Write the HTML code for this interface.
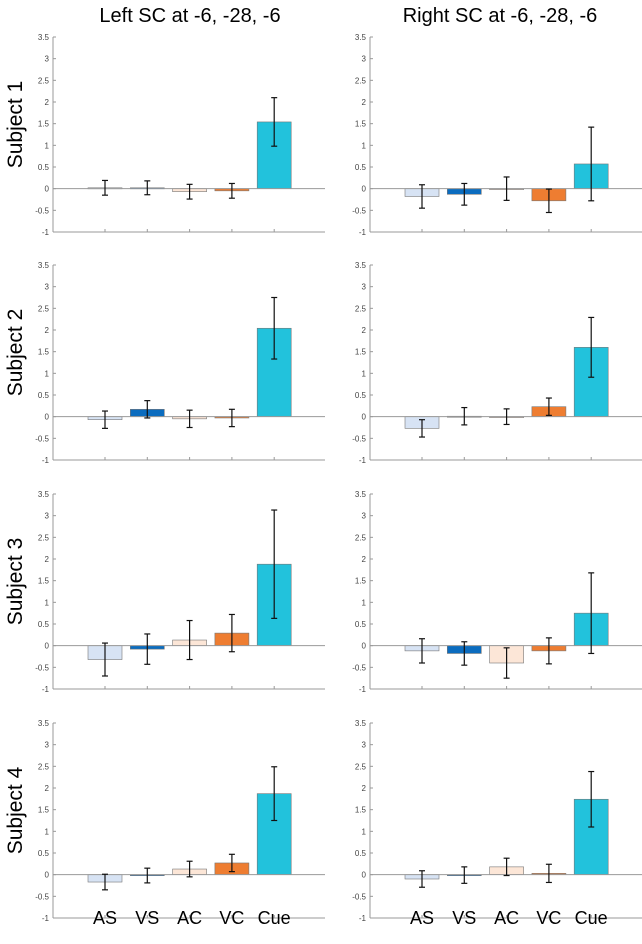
<!DOCTYPE html>
<html><head><meta charset="utf-8"><style>
body{margin:0;background:#fff;}
svg{display:block;font-family:"Liberation Sans",sans-serif;}
</style></head><body>
<svg id="fig" width="642" height="944" viewBox="0 0 642 944">
<text x="190" y="22" font-size="20" text-anchor="middle">Left SC at -6, -28, -6</text>
<text x="500" y="22" font-size="20" text-anchor="middle">Right SC at -6, -28, -6</text>
</svg>
<script>
const categories=["AS","VS","AC","VC","Cue"];
const colors=["#d7e3f4","#0b6cbf","#fce6d7","#ee7d31","#22c2dc"];
const subjects=["Subject 1","Subject 2","Subject 3","Subject 4"];
const leftValues=[[0.02,0.02,-0.07,-0.05,1.54],[-0.07,0.17,-0.05,-0.03,2.04],[-0.32,-0.08,0.13,0.29,1.88],[-0.17,-0.02,0.13,0.27,1.87]];
const leftErrors=[[0.17,0.16,0.17,0.17,0.56],[0.2,0.2,0.2,0.2,0.71],[0.38,0.35,0.45,0.43,1.25],[0.18,0.17,0.18,0.2,0.62]];
const rightValues=[[-0.18,-0.13,0.0,-0.28,0.57],[-0.27,0.01,0.0,0.23,1.6],[-0.12,-0.18,-0.4,-0.12,0.75],[-0.1,-0.01,0.18,0.03,1.74]];
const rightErrors=[[0.27,0.25,0.27,0.27,0.85],[0.2,0.2,0.18,0.2,0.69],[0.28,0.27,0.35,0.3,0.93],[0.19,0.19,0.2,0.21,0.64]];
const yTicks=["3.5","3","2.5","2","1.5","1","0.5","0","-0.5","-1"];
const NS="http://www.w3.org/2000/svg";
const svg=document.getElementById("fig");
function mk(tag,attrs,parent){const e=document.createElementNS(NS,tag);for(const k in attrs)e.setAttribute(k,attrs[k]);(parent||svg).appendChild(e);return e;}
const tops=[37,265,494,723],lefts=[53,370];
const H=195,yMin=-1,yMax=3.5;
function panel(px,py,vals,errs,name){
  const g=mk("g",{});
  
  
  const y=v=>py+(yMax-v)/(yMax-yMin)*H;
  const x=i=>px+52+i*42.3;
  const W=272;
  const ax=mk("line",{x1:px,y1:py,x2:px,y2:py+H,stroke:"#999","stroke-width":1},g);
  
  
  const bx=mk("line",{x1:px,y1:py+H,x2:px+W,y2:py+H,stroke:"#999","stroke-width":1},g);
  
  
  yTicks.forEach(t=>{const v=parseFloat(t);
    mk("line",{x1:px,y1:y(v),x2:px+3,y2:y(v),stroke:"#999"},g);
    const tx=mk("text",{x:px-4,y:y(v)+3,"font-size":8,fill:"#444","text-anchor":"end"},g);tx.textContent=t;
    
    
  });
  categories.forEach((c,i)=>{
    mk("line",{x1:x(i),y1:py+H,x2:x(i),y2:py+H-3,stroke:"#999"},g);
    const v=vals[i];
    const r=mk("rect",{x:x(i)-17,y:Math.min(y(v),y(0)),width:34,height:Math.max(Math.abs(y(v)-y(0)),1),fill:colors[i],stroke:"#777","stroke-width":0.6},g);
    
    
  });
  const z=mk("line",{x1:px,y1:y(0),x2:px+W,y2:y(0),stroke:"#999","stroke-width":1},g);
  
  
  categories.forEach((c,i)=>{
    const v=vals[i],e=errs[i];
    const eg=mk("g",{stroke:"#111","stroke-width":1.2},g);
    
    
    mk("line",{x1:x(i),y1:y(v+e),x2:x(i),y2:y(v-e)},eg);
    mk("line",{x1:x(i)-3,y1:y(v+e),x2:x(i)+3,y2:y(v+e)},eg);
    mk("line",{x1:x(i)-3,y1:y(v-e),x2:x(i)+3,y2:y(v-e)},eg);
  });
}
subjects.forEach((s,r)=>{
  panel(lefts[0],tops[r],leftValues[r],leftErrors[r],"left-panel-subject-"+(r+1));
  panel(lefts[1],tops[r],rightValues[r],rightErrors[r],"right-panel-subject-"+(r+1));
  const cy=tops[r]+H/2-10;
  const t=mk("text",{x:0,y:0,"font-size":21,"text-anchor":"middle",transform:`translate(22,${cy}) rotate(-90)`});
  t.textContent=s;
  
  
});
lefts.forEach(px=>{
  categories.forEach((c,i)=>{
    const t=mk("text",{x:px+52+i*42.3,y:924,"font-size":18,"text-anchor":"middle"});
    t.textContent=c;
    
    
  });
});
</script>
</body></html>
